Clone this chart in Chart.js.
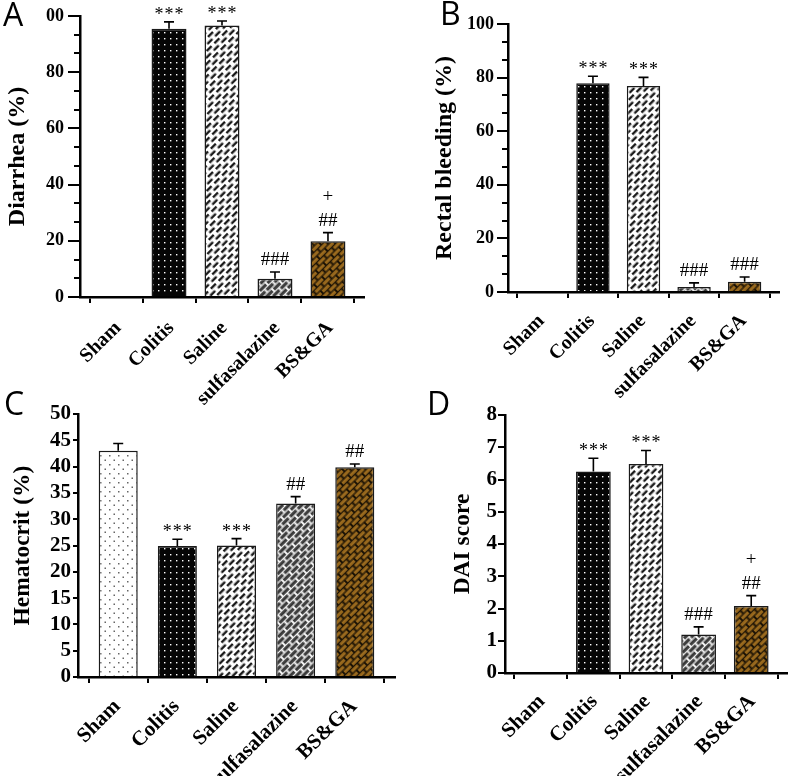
<!DOCTYPE html>
<html>
<head>
<meta charset="utf-8">
<script src="https://cdn.jsdelivr.net/npm/chart.js@4.4.1/dist/chart.umd.min.js"></script>
<style>
  body { margin: 0; background: #fff; }
  #lienzo { position: relative; width: 789px; height: 776px; overflow: hidden; }
  canvas { position: absolute; }
  .letra { position: absolute; font-family: 'Open Sans', sans-serif; font-size: 32px; line-height: 1; color: #000; }
</style>
</head>
<body>
<div id="lienzo">
  <canvas id="graficoA" width="390" height="412" style="left:0;top:0"></canvas>
  <canvas id="graficoB" width="369" height="412" style="left:420px;top:0"></canvas>
  <canvas id="graficoC" width="400" height="386" style="left:0;top:390px"></canvas>
  <canvas id="graficoD" width="369" height="386" style="left:420px;top:390px"></canvas>
  <div class="letra" style="left:3px;top:-2px">A</div>
  <div class="letra" style="left:440px;top:-3px">B</div>
  <div class="letra" style="left:4px;top:387px">C</div>
  <div class="letra" style="left:427px;top:387px">D</div>
</div>
<script>
const grupos = ['Sham', 'Colitis', 'Saline', 'sulfasalazine', 'BS&GA'];

const diarrea = [0, 95.5, 96.6, 6.5, 19.8];
const diarreaError = [0, 2.4, 1.6, 2.4, 3.1];
const sangrado = [0, 77.9, 76.9, 1.9, 3.8];
const sangradoError = [0, 2.6, 3.2, 1.5, 1.8];
const hematocrito = [43.0, 24.9, 25.0, 33.0, 39.9];
const hematocritoError = [1.4, 1.3, 1.3, 1.3, 0.6];
const dai = [0, 6.25, 6.48, 1.19, 2.08];
const daiError = [0, 0.41, 0.42, 0.24, 0.32];

// signos de significancia (de abajo hacia arriba)
const marcasDiarrea = [[], ['***'], ['***'], ['###'], ['##', '+']];
const marcasSangrado = [[], ['***'], ['***'], ['###'], ['###']];
const marcasHematocrito = [[], ['***'], ['***'], ['##'], ['##']];
const marcasDai = [[], ['***'], ['***'], ['###'], ['##', '+']];

const fuente = "'Liberation Serif', serif";

// Patrones de relleno
const crearTrama = (ancho, alto, fondo, dibujar, giro) => {
  const c = document.createElement('canvas');
  c.width = ancho; c.height = alto;
  const g = c.getContext('2d');
  g.fillStyle = fondo;
  g.fillRect(0, 0, ancho, alto);
  dibujar(g, ancho, alto);
  const trama = g.createPattern(c, 'repeat');
  if (giro) trama.setTransform(new DOMMatrix().rotateSelf(giro));
  return trama;
};

const puntos = (color, r, lista) => (g) => {
  g.fillStyle = color;
  lista.forEach(([px, py]) => g.fillRect(px, py, r, r));
};

// ladrillos: guiones en filas desplazadas, luego girados 45 grados
const ladrillos = (color, largo, grueso) => (g, ancho, alto) => {
  g.fillStyle = color;
  const mitad = alto / 2;
  g.fillRect(0, (mitad - grueso) / 2, largo, grueso);
  [ancho / 2, ancho / 2 - ancho].forEach((dx) => g.fillRect(dx, mitad + (mitad - grueso) / 2, largo, grueso));
};

const tramas = [
  crearTrama(9, 9, '#ffffff', puntos('#666666', 1.5, [[1, 2], [5.5, 6.5]])),
  crearTrama(6, 6, '#050505', puntos('#ffffff', 1.4, [[2, 2]])),
  crearTrama(11, 9, '#ffffff', ladrillos('#111111', 7, 2.3), -45),
  crearTrama(11, 9, '#f2f2f2', ladrillos('#3a3a3a', 9, 3.2), -45),
  crearTrama(11, 9, '#1c1305', ladrillos('#9a6a1e', 9, 3.2), -45),
];

const marcas = {
  id: 'marcas',
  afterDatasetsDraw(chart, args, opts) {
    const { ctx } = chart;
    const x = chart.scales.x, y = chart.scales.y;
    ctx.save();
    ctx.strokeStyle = '#000';
    ctx.lineWidth = 2;
    // subdivisiones del eje y
    if (opts.menor) {
      ctx.beginPath();
      for (let v = 0; v <= y.max + 0.001; v += opts.menor) {
        const py = Math.round(y.getPixelForValue(v));
        ctx.moveTo(y.right - 6, py);
        ctx.lineTo(y.right, py);
      }
      ctx.stroke();
    }
    // barras de error (solo hacia arriba)
    ctx.lineWidth = 1.6;
    opts.medias.forEach((m, i) => {
      const px = x.getPixelForValue(i);
      const arriba = y.getPixelForValue(m + opts.errores[i]);
      if (opts.errores[i] > 0) {
        ctx.beginPath();
        ctx.moveTo(px, y.getPixelForValue(m));
        ctx.lineTo(px, arriba);
        ctx.moveTo(px - 5, arriba);
        ctx.lineTo(px + 5, arriba);
        ctx.stroke();
      }
      ctx.fillStyle = '#000';
      ctx.textAlign = 'center';
      ctx.textBaseline = 'alphabetic';
      opts.signos[i].forEach((s, k) => {
        const estrella = s[0] === '*';
        ctx.font = `${estrella ? 18 : 19}px ${fuente}`;
        ctx.letterSpacing = estrella ? '1px' : '0px';
        ctx.fillText(s, px + (estrella ? 0.5 : 0), arriba - (estrella ? 2 : 7) - k * 23.5);
      });
    });
    ctx.restore();
  }
};

const crearGrafico = (id, medias, errores, signos, cfg) => {
  const ctx = document.getElementById(id).getContext('2d');
  return new Chart(ctx, {
    type: 'bar',
    data: {
      labels: grupos.map((g, i) => i),
      datasets: [{
        data: medias,
        backgroundColor: tramas,
        borderColor: '#1a1a1a',
        borderWidth: 1.5,
        barPercentage: 0.66,
        categoryPercentage: 1,
      }],
    },
    options: {
      responsive: false,
      animation: false,
      devicePixelRatio: 1,
      layout: { padding: { left: 0, top: cfg.arriba, right: cfg.derecha, bottom: 0 } },
      plugins: {
        legend: { display: false },
        tooltip: { enabled: false },
        marcas: { medias, errores, signos, menor: cfg.menor },
      },
      scales: {
        x: {
          type: 'linear',
          min: -0.68,
          max: 4.68,
          offset: false,
          afterBuildTicks: (s) => { s.ticks = grupos.map((g, i) => ({ value: i })); },
          afterFit: (s) => { s.height = cfg.altoX; },
          border: { display: true, color: '#000', width: 2.5 },
          grid: { drawOnChartArea: false, color: '#000', lineWidth: 2, tickLength: 6 },
          ticks: {
            color: '#000',
            font: { family: fuente, size: cfg.letraX, weight: 'bold' },
            minRotation: 45,
            maxRotation: 45,
            autoSkip: false,
            padding: cfg.margenX,
            labelOffset: cfg.corrimientoX,
            callback: (v) => grupos[v],
          },
        },
        y: {
          min: 0,
          max: cfg.max,
          afterFit: (s) => { s.width = cfg.anchoY; },
          border: { display: true, color: '#000', width: 2.5 },
          grid: { drawOnChartArea: false, color: '#000', lineWidth: 2, tickLength: cfg.marcaY },
          ticks: {
            color: '#000',
            stepSize: cfg.paso,
            autoSkip: false,
            padding: cfg.margenY,
            font: { family: fuente, size: cfg.letraY, weight: 'bold' },
            callback: cfg.etiqueta || ((v) => v),
          },
          title: {
            display: true,
            text: cfg.titulo,
            color: '#000',
            font: { family: fuente, size: cfg.letraTitulo, weight: 'bold' },
            padding: { top: cfg.margenTitulo, bottom: 0 },
          },
        },
      },
    },
    plugins: [marcas],
  });
};

crearGrafico('graficoA', diarrea, diarreaError, marcasDiarrea, {
  titulo: 'Diarrhea (%)', max: 100, paso: 20, menor: 20 / 3,
  etiqueta: (v) => (v === 100 ? '00' : v),
  arriba: 16, derecha: 26, altoX: 115, anchoY: 80,
  letraX: 20, margenX: 13.5, corrimientoX: 2,
  letraY: 18, marcaY: 12, margenY: 4,
  letraTitulo: 24, margenTitulo: 3,
});

crearGrafico('graficoB', sangrado, sangradoError, marcasSangrado, {
  titulo: 'Rectal bleeding (%)', max: 100, paso: 20, menor: 20 / 3,
  arriba: 24, derecha: 10, altoX: 120, anchoY: 88,
  letraX: 20, margenX: 11.5, corrimientoX: -1,
  letraY: 18, marcaY: 11, margenY: 3,
  letraTitulo: 24, margenTitulo: 10,
});

crearGrafico('graficoC', hematocrito, hematocritoError, marcasHematocrito, {
  titulo: 'Hematocrit (%)', max: 50, paso: 5,
  arriba: 24, derecha: 5, altoX: 99, anchoY: 78,
  letraX: 21, margenX: 11.5, corrimientoX: -1,
  letraY: 21, marcaY: 5, margenY: 2,
  letraTitulo: 23.5, margenTitulo: 9,
});

crearGrafico('graficoD', dai, daiError, marcasDai, {
  titulo: 'DAI score', max: 8, paso: 1,
  arriba: 25, derecha: 2, altoX: 103, anchoY: 85,
  letraX: 21, margenX: 10.5, corrimientoX: 1,
  letraY: 21, marcaY: 7, margenY: 1,
  letraTitulo: 23.5, margenTitulo: 29,
});
</script>
</body>
</html>
